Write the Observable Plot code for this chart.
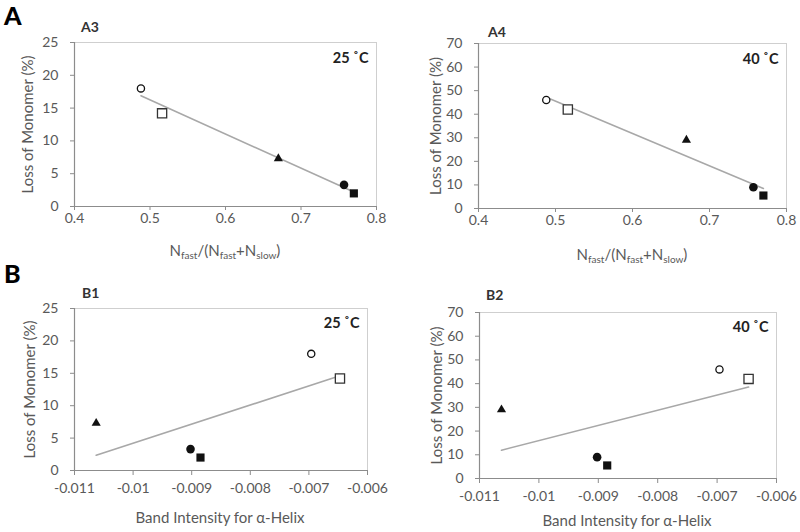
<!DOCTYPE html>
<html>
<head>
<meta charset="utf-8">
<script src="https://cdn.jsdelivr.net/npm/d3@7"></script>
<script src="https://cdn.jsdelivr.net/npm/@observablehq/plot@0.6"></script>
<style>
  html, body { margin: 0; padding: 0; background: #fff; }
  #wrap { position: relative; width: 800px; height: 532px; overflow: hidden; font-family: Lato, "Open Sans", sans-serif; }
  .big { position: absolute; font-weight: 900; font-size: 25px; color: #000; line-height: 1; }
  .ptitle { position: absolute; font-weight: 700; font-size: 14px; color: #333; line-height: 1; }
  .xlab { position: absolute; font-size: 15px; color: #595959; line-height: 1; transform: translate(-50%, -50%); white-space: nowrap; }
  .xlab sub { font-size: 10px; vertical-align: -3px; }
  svg { position: absolute; }
</style>
</head>
<body>
<div id="wrap"></div>
<script>
// ---- data ----
const markers = ["openCircle", "openSquare", "triangle", "filledCircle", "filledSquare"];
const nFastRatio = [0.488, 0.516, 0.670, 0.757, 0.770];
const bandIntensity = [-0.00696, -0.00647, -0.01063, -0.00902, -0.00885];
const loss25 = [18, 14.2, 7.3, 3.3, 2.0];
const loss40 = [46, 42, 29, 9, 5.5];
const ticksA = [0.4, 0.5, 0.6, 0.7, 0.8];
const ticksB = [-0.011, -0.01, -0.009, -0.008, -0.007, -0.006];
const ticksY25 = [0, 5, 10, 15, 20, 25];
const ticksY40 = [0, 10, 20, 30, 40, 50, 60, 70];

const markerStyle = {
  openCircle:   {symbol: "circle",   r: 3.6, fill: "white", stroke: "#111", strokeWidth: 1.3},
  openSquare:   {symbol: "square",   r: 5.2, fill: "white", stroke: "#333", strokeWidth: 1.3},
  triangle:     {symbol: "triangle", r: 3.4, fill: "#111",  stroke: "none", strokeWidth: 0},
  filledCircle: {symbol: "circle",   r: 4.3, fill: "#111",  stroke: "none", strokeWidth: 0},
  filledSquare: {symbol: "square",   r: 4.6, fill: "#111",  stroke: "none", strokeWidth: 0}
};

const wrap = document.getElementById("wrap");

function panel(o) {
  const rows = markers.map((m, i) => ({m, x: o.xs[i], y: o.ys[i]}));
  const fmt = d => String(+d.toFixed(3));
  const marks = [
    Plot.frame({stroke: "#cfcfcf"}),
    Plot.ruleX([o.xDomain[0]], {stroke: "#8c8c8c", strokeWidth: 1.2}),
    Plot.ruleY([o.yDomain[0]], {stroke: "#8c8c8c", strokeWidth: 1.2}),
    Plot.axisX({ticks: o.xTicks, tickSize: o.xTickSize, tickPadding: o.xTickPad, tickFormat: fmt, label: null, stroke: "#8c8c8c", fontSize: 14}),
    Plot.axisY({ticks: o.yTicks, tickSize: 4, tickPadding: o.yTickPad, tickFormat: fmt, label: null, stroke: "#8c8c8c", fontSize: 14}),
    Plot.text(["Loss of Monomer (%)"], {frameAnchor: "left", dx: -o.labelOffset, rotate: -90, fontSize: 15, fill: "#595959", textAnchor: "middle", lineAnchor: "top"}),
    Plot.linearRegressionY(rows, {x: "x", y: "y", ci: 0, stroke: "#a8a8a8", strokeWidth: 1.6}),
    ...markers.map(m => Plot.dot(rows.filter(d => d.m === m), {x: "x", y: "y", ...markerStyle[m]})),
    Plot.text([o.temp], {frameAnchor: "top-right", dx: o.tempDx, dy: o.tempDy, fontWeight: "bold", fontSize: 14.5, fill: "#222", textAnchor: "end"})
  ];
  const svg = Plot.plot({
    width: o.width, height: o.height,
    marginLeft: o.ml, marginRight: o.mr, marginTop: o.mt, marginBottom: o.mb,
    x: {domain: o.xDomain},
    y: {domain: o.yDomain},
    style: {fontFamily: "Lato, 'Open Sans', sans-serif", fontSize: "14px", color: "#595959", background: "transparent"},
    marks
  });
  svg.style.left = o.left + "px";
  svg.style.top = o.top + "px";
  wrap.appendChild(svg);

  const t = document.createElement("div");
  t.className = "ptitle";
  t.textContent = o.title;
  t.style.left = o.titleX + "px";
  t.style.top = o.titleY + "px";
  wrap.appendChild(t);

  const xl = document.createElement("div");
  xl.className = "xlab";
  xl.innerHTML = o.xLabelHTML;
  xl.style.left = o.xLabelX + "px";
  xl.style.top = o.xLabelY + "px";
  wrap.appendChild(xl);
}

const nLabel = "N<sub>fast</sub>/(N<sub>fast</sub>+N<sub>slow</sub>)";
const bLabel = "Band Intensity for α-Helix";

panel({left: 0, top: 0, width: 400, height: 270, ml: 74, mr: 24, mt: 42, mb: 64,
  xDomain: [0.4, 0.8], xTicks: ticksA, yDomain: [0, 25], yTicks: ticksY25,
  xs: nFastRatio, ys: loss25, temp: "25 ˚C", tempDx: -8, tempDy: 10,
  xTickSize: 4, xTickPad: 3, yTickPad: 12, labelOffset: 52,
  title: "A3", titleX: 81, titleY: 20, xLabelHTML: nLabel, xLabelX: 225, xLabelY: 251});

panel({left: 400, top: 0, width: 400, height: 270, ml: 78, mr: 14, mt: 43, mb: 62,
  xDomain: [0.4, 0.8], xTicks: ticksA, yDomain: [0, 70], yTicks: ticksY40,
  xs: nFastRatio, ys: loss40, temp: "40 ˚C", tempDx: -8, tempDy: 10,
  xTickSize: 4, xTickPad: 3, yTickPad: 12, labelOffset: 48,
  title: "A4", titleX: 488, titleY: 25, xLabelHTML: nLabel, xLabelX: 632, xLabelY: 255});

panel({left: 0, top: 262, width: 400, height: 270, ml: 74, mr: 33, mt: 46, mb: 62,
  xDomain: [-0.011, -0.006], xTicks: ticksB, yDomain: [0, 25], yTicks: ticksY25,
  xs: bandIntensity, ys: loss25, temp: "25 ˚C", tempDx: -8, tempDy: 9,
  xTickSize: 5, xTickPad: 8, yTickPad: 12, labelOffset: 50,
  title: "B1", titleX: 82, titleY: 286, xLabelHTML: bLabel, xLabelX: 220, xLabelY: 517});

panel({left: 400, top: 262, width: 400, height: 270, ml: 79, mr: 24, mt: 50, mb: 54,
  xDomain: [-0.011, -0.006], xTicks: ticksB, yDomain: [0, 70], yTicks: ticksY40,
  xs: bandIntensity, ys: loss40, temp: "40 ˚C", tempDx: -8, tempDy: 9,
  xTickSize: 5, xTickPad: 8, yTickPad: 12, labelOffset: 48,
  title: "B2", titleX: 486, titleY: 288, xLabelHTML: bLabel, xLabelX: 627, xLabelY: 520});

const A = document.createElement("div");
A.className = "big"; A.textContent = "A"; A.style.left = "4px"; A.style.top = "3px";
wrap.appendChild(A);
const B = document.createElement("div");
B.className = "big"; B.textContent = "B"; B.style.left = "4px"; B.style.top = "261px";
wrap.appendChild(B);
</script>
</body>
</html>
